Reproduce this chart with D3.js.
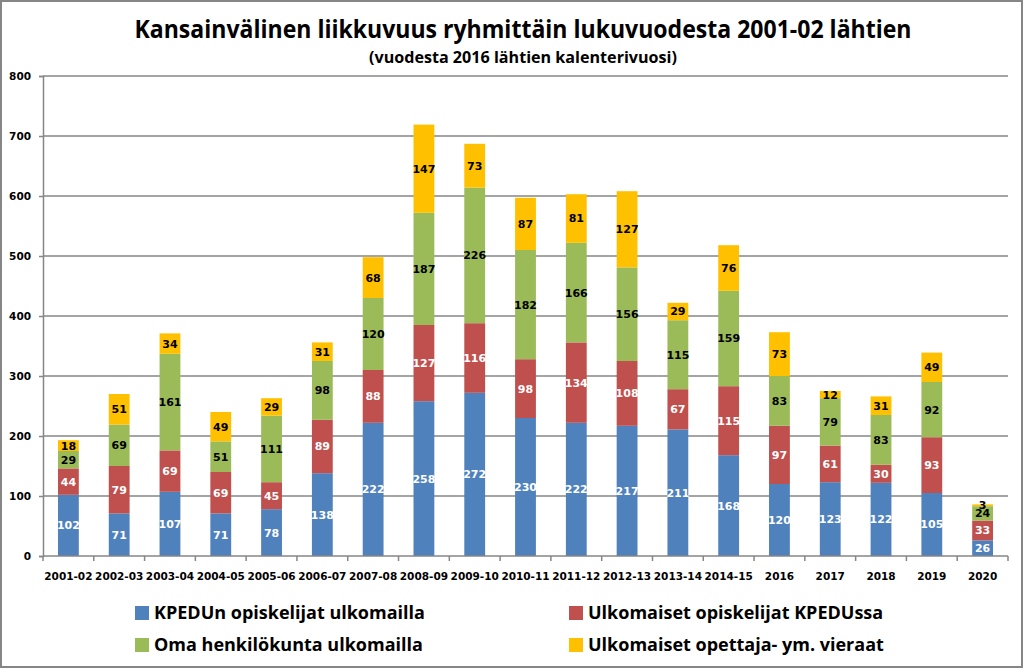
<!DOCTYPE html>
<html>
<head>
<meta charset="utf-8">
<script src="https://cdn.jsdelivr.net/npm/d3@7"></script>
<style>
  body { margin: 0; background: #fff; }
</style>
</head>
<body>
<div id="chart"></div>
<script>
// data
var categories = ["2001-02", "2002-03", "2003-04", "2004-05", "2005-06", "2006-07", "2007-08", "2008-09", "2009-10", "2010-11",
    "2011-12", "2012-13", "2013-14", "2014-15", "2016", "2017", "2018", "2019", "2020"];
var seriesNames = ["KPEDUn opiskelijat ulkomailla", "Ulkomaiset opiskelijat KPEDUssa",
    "Oma henkilökunta ulkomailla", "Ulkomaiset opettaja- ym. vieraat"];
var kpedAbroad = [102, 71, 107, 71, 78, 138, 222, 258, 272, 230, 222, 217, 211, 168, 120, 123, 122, 105, 26];
var foreignStudents = [44, 79, 69, 69, 45, 89, 88, 127, 116, 98, 134, 108, 67, 115, 97, 61, 30, 93, 33];
var staffAbroad = [29, 69, 161, 51, 111, 98, 120, 187, 226, 182, 166, 156, 115, 159, 83, 79, 83, 92, 24];
var foreignGuests = [18, 51, 34, 49, 29, 31, 68, 147, 73, 87, 81, 127, 29, 76, 73, 12, 31, 49, 3];
var yTicks = [0, 100, 200, 300, 400, 500, 600, 700, 800];

var colors = ["#4F81BD", "#C0504D", "#9BBB59", "#FFC000"];
var labelColors = ["#fff", "#fff", "#000", "#000"];

function main() {
    var W = 1024, H = 669;
    var plot = { left: 43, right: 1008, top: 76, bottom: 556 };

    var svg = d3.select("#chart").append("svg")
        .attr("width", W)
        .attr("height", H);

    // outer frame
    svg.append("rect")
        .attr("x", 1).attr("y", 1)
        .attr("width", W - 3).attr("height", H - 3)
        .attr("fill", "#fff")
        .attr("stroke", "#868686")
        .attr("stroke-width", 2);

    // titles
    svg.append("text")
        .attr("x", 523).attr("y", 38)
        .attr("text-anchor", "middle")
        .attr("font-family", "'Liberation Sans Narrow', 'Open Sans', sans-serif")
        .attr("font-weight", "bold")
        .attr("font-size", "25px")
        .attr("textLength", 777)
        .attr("lengthAdjust", "spacingAndGlyphs")
        .text("Kansainvälinen liikkuvuus ryhmittäin lukuvuodesta 2001-02 lähtien");

    svg.append("text")
        .attr("x", 523).attr("y", 63)
        .attr("text-anchor", "middle")
        .attr("font-family", "'Liberation Sans Narrow', 'Open Sans', sans-serif")
        .attr("font-weight", "bold")
        .attr("font-size", "16px")
        .attr("textLength", 308)
        .attr("lengthAdjust", "spacingAndGlyphs")
        .text("(vuodesta 2016 lähtien kalenterivuosi)");

    var x = d3.scaleBand()
        .domain(categories)
        .range([plot.left, plot.right])
        .paddingInner(0.59)
        .paddingOuter(0.295);

    var y = d3.scaleLinear()
        .domain([0, 800])
        .range([plot.bottom, plot.top]);

    // gridlines
    svg.append("g")
        .selectAll("line")
        .data(yTicks.slice(1))
        .enter()
        .append("line")
        .attr("x1", plot.left).attr("x2", plot.right)
        .attr("y1", function (d) { return y(d); })
        .attr("y2", function (d) { return y(d); })
        .attr("stroke", "#868686")
        .attr("stroke-width", 1.5);

    // stack the series
    var rows = categories.map(function (c, i) {
        return { cat: c, s0: kpedAbroad[i], s1: foreignStudents[i], s2: staffAbroad[i], s3: foreignGuests[i] };
    });
    var keys = ["s0", "s1", "s2", "s3"];
    var stacked = d3.stack().keys(keys)(rows);

    var layers = svg.append("g")
        .selectAll("g")
        .data(stacked)
        .enter()
        .append("g")
        .attr("fill", function (d, i) { return colors[i]; });

    layers.selectAll("rect")
        .data(function (d) { return d; })
        .enter()
        .append("rect")
        .attr("x", function (d) { return x(d.data.cat); })
        .attr("y", function (d) { return y(d[1]); })
        .attr("width", x.bandwidth())
        .attr("height", function (d) { return y(d[0]) - y(d[1]); });

    // value labels
    var labels = svg.append("g")
        .selectAll("g")
        .data(stacked)
        .enter()
        .append("g")
        .attr("fill", function (d, i) { return labelColors[i]; });

    labels.selectAll("text")
        .data(function (d) { return d; })
        .enter()
        .append("text")
        .attr("x", function (d) { return x(d.data.cat) + x.bandwidth() / 2; })
        .attr("y", function (d) { return y((d[0] + d[1]) / 2); })
        .attr("dy", "0.36em")
        .attr("text-anchor", "middle")
        .attr("font-family", "'DejaVu Sans', sans-serif")
        .attr("font-weight", "bold")
        .attr("font-size", "11px")
        .text(function (d) { return d[1] - d[0]; });

    // y axis
    var yAxis = svg.append("g")
        .attr("transform", "translate(" + plot.left + ",0)")
        .call(d3.axisLeft(y).tickValues(yTicks).tickSize(4).tickPadding(8));
    yAxis.select(".domain").attr("stroke", "#868686").attr("stroke-width", 1.5);
    yAxis.selectAll(".tick line").attr("stroke", "#868686").attr("stroke-width", 1.5);
    yAxis.selectAll(".tick text")
        .attr("font-family", "'DejaVu Sans', sans-serif")
        .attr("font-weight", "bold")
        .attr("font-size", "10.5px")
        .attr("fill", "#000");

    // x axis, ticks between categories
    var xAxis = svg.append("g")
        .attr("transform", "translate(0," + plot.bottom + ")");
    xAxis.append("line")
        .attr("x1", plot.left).attr("x2", plot.right)
        .attr("stroke", "#868686").attr("stroke-width", 1.5);
    xAxis.selectAll(".sep")
        .data(categories)
        .enter()
        .append("line")
        .attr("class", "sep")
        .attr("x1", function (d) { return x(d) - x.step() * x.paddingOuter(); })
        .attr("x2", function (d) { return x(d) - x.step() * x.paddingOuter(); })
        .attr("y1", 0).attr("y2", 5)
        .attr("stroke", "#868686").attr("stroke-width", 1.5);
    xAxis.append("line")
        .attr("x1", plot.right).attr("x2", plot.right)
        .attr("y1", 0).attr("y2", 5)
        .attr("stroke", "#868686").attr("stroke-width", 1.5);
    xAxis.selectAll(".lbl")
        .data(categories)
        .enter()
        .append("text")
        .attr("class", "lbl")
        .attr("x", function (d) { return x(d) + x.bandwidth() / 2; })
        .attr("y", 24)
        .attr("text-anchor", "middle")
        .attr("font-family", "'DejaVu Sans', sans-serif")
        .attr("font-weight", "bold")
        .attr("font-size", "10.5px")
        .text(function (d) { return d; });

    // legend
    var legendPos = [[135, 613], [569, 613], [135, 645], [569, 645]];
    var legend = svg.append("g")
        .selectAll("g")
        .data(seriesNames)
        .enter()
        .append("g")
        .attr("transform", function (d, i) { return "translate(" + legendPos[i][0] + "," + legendPos[i][1] + ")"; });
    legend.append("rect")
        .attr("x", 0).attr("y", -7)
        .attr("width", 14).attr("height", 14)
        .attr("fill", function (d, i) { return colors[i]; });
    legend.append("text")
        .attr("x", 19)
        .attr("dy", "0.36em")
        .attr("font-family", "'Open Sans', sans-serif")
        .attr("font-weight", "bold")
        .attr("font-size", "18px")
        .text(function (d) { return d; });
}

window.addEventListener('load', main);
</script>
</body>
</html>
